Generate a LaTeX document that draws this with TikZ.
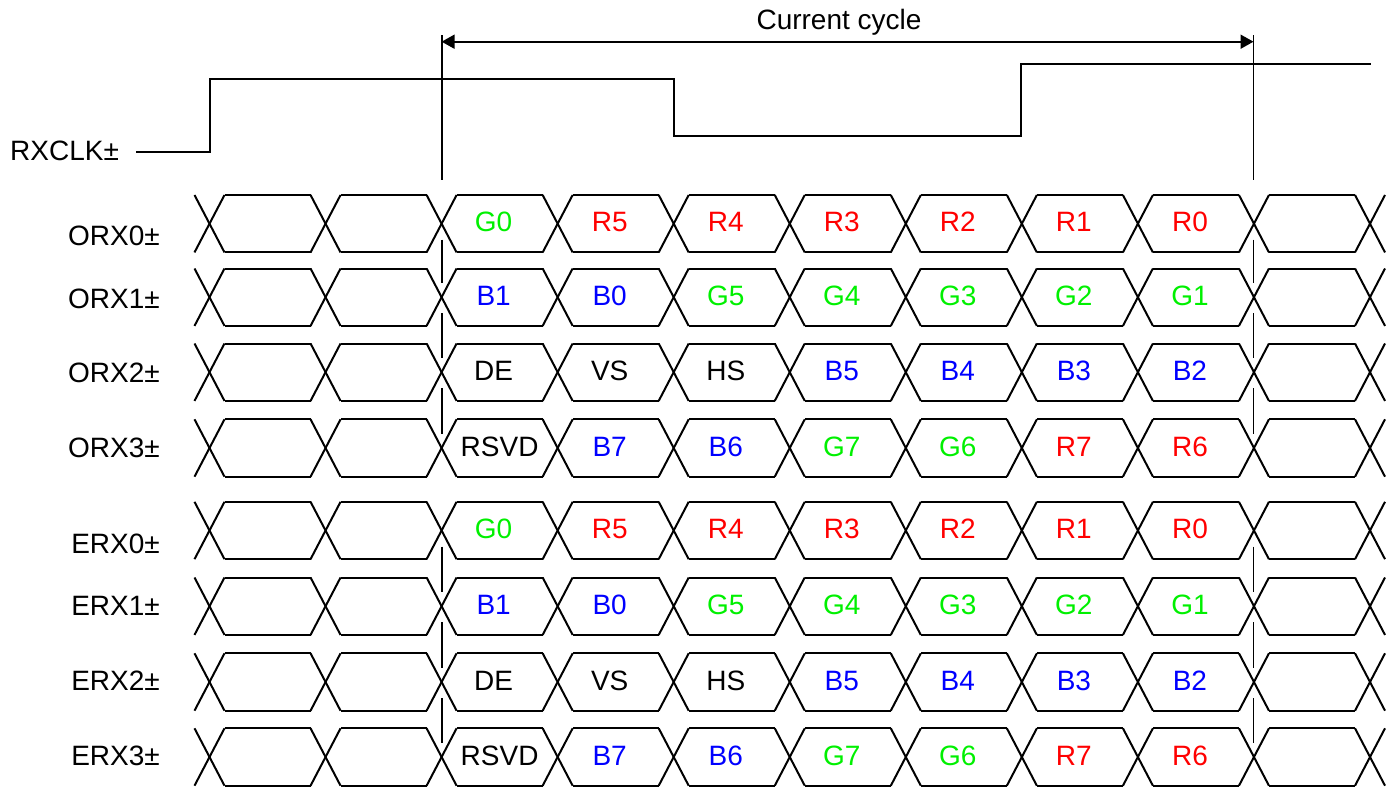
\documentclass[tikz,border=0pt]{standalone}
\usepackage{fontspec}
\setmainfont{Liberation Sans}
\usetikzlibrary{arrows.meta}
\definecolor{sgreen}{RGB}{0,240,0}
\definecolor{sred}{RGB}{255,0,0}
\definecolor{sblue}{RGB}{0,0,255}
\definecolor{sblack}{RGB}{0,0,0}
\begin{document}
\begin{tikzpicture}[x=1pt,y=-1pt,
  txt/.style={font=\fontsize{28}{30}\selectfont, inner sep=0pt},
  wave/.style={line width=2pt, line join=miter, line cap=butt},
  marker/.style={line width=1.8pt},
  span/.style={line width=1.8pt, {Triangle[length=13pt,width=14pt]}-{Triangle[length=13pt,width=14pt]}}]
\useasboundingbox (0,0) rectangle (1395,787);

% clock
\node[txt, anchor=base west] (clklbl) at (10,160) {RXCLK±};
\draw[wave] (136,152) -- (209.5,152) -- (209.5,79) -- (674,79) -- (674,136) -- (1021,136) -- (1021,64) -- (1371,64);

% cycle markers
\coordinate (mLt) at (441.6,35);
\coordinate (mLb) at (441.6,180);
\coordinate (mRt) at (1253.5,35);
\coordinate (mRb) at (1253.5,180);
\draw[marker] (mLt) -- (mLb);
\draw[marker] (mRt) -- (mRb);
\coordinate (aL) at (441.6,41.7);
\coordinate (aR) at (1253.5,41.7);
\draw[span] (aL) -- (aR);
\node[txt, anchor=base] (cyc) at (839,29) {Current cycle};

% lanes
\foreach \r/\ym/\lab/\lb in {1/223.7/ORX0/245, 2/297.2/ORX1/308, 3/372.2/ORX2/382, 4/448/ORX3/457,
                             5/530.5/ERX0/553, 6/606.2/ERX1/615, 7/682/ERX2/690, 8/757/ERX3/765} {
  \node[txt, anchor=base east] (lab\r) at (160,\lb) {\lab±};
  \pgfmathsetmacro\yt{\ym-28.7}
  \pgfmathsetmacro\yb{\ym+28.7}
  \foreach \k in {0,...,10} {
    \pgfmathsetmacro\xc{209.5+116.05*\k}
    \draw[wave] (\xc-15,\yt) -- (\xc+15,\yb);
    \draw[wave] (\xc-15,\yb) -- (\xc+15,\yt);
  }
  \foreach \k in {0,...,9} {
    \pgfmathsetmacro\xa{209.5+116.05*\k+15}
    \pgfmathsetmacro\xb{209.5+116.05*(\k+1)-15}
    \draw[wave] (\xa,\yt) -- (\xb,\yt);
    \draw[wave] (\xa,\yb) -- (\xb,\yb);
  }
}

% cell contents
\foreach \r/\ym in {1/223.7,5/530.5} {
  \foreach \t/\c [count=\i from 2] in {G0/sgreen,R5/sred,R4/sred,R3/sred,R2/sred,R1/sred,R0/sred} {
    \pgfmathsetmacro\xc{209.5+116.05*(\i+0.5)-6}
    \node[txt, anchor=base, text=\c] (c\r-\i) at (\xc,\ym+8) {\t};
  }
}
\foreach \r/\ym in {2/297.2,6/606.2} {
  \foreach \t/\c [count=\i from 2] in {B1/sblue,B0/sblue,G5/sgreen,G4/sgreen,G3/sgreen,G2/sgreen,G1/sgreen} {
    \pgfmathsetmacro\xc{209.5+116.05*(\i+0.5)-6}
    \node[txt, anchor=base, text=\c] (c\r-\i) at (\xc,\ym+8) {\t};
  }
}
\foreach \r/\ym in {3/372.2,7/682} {
  \foreach \t/\c [count=\i from 2] in {DE/sblack,VS/sblack,HS/sblack,B5/sblue,B4/sblue,B3/sblue,B2/sblue} {
    \pgfmathsetmacro\xc{209.5+116.05*(\i+0.5)-6}
    \node[txt, anchor=base, text=\c] (c\r-\i) at (\xc,\ym+8) {\t};
  }
}
\foreach \r/\ym in {4/448,8/757} {
  \foreach \t/\c/\dx [count=\i from 2] in {RSVD/sblack/0,B7/sblue/6,B6/sblue/6,G7/sgreen/6,G6/sgreen/6,R7/sred/6,R6/sred/6} {
    \pgfmathsetmacro\xc{209.5+116.05*(\i+0.5)-\dx}
    \node[txt, anchor=base, text=\c] (c\r-\i) at (\xc,\ym+8) {\t};
  }
}

% broken cycle boundary lines through the lanes
\foreach \xm in {441.6,1253.5} {
  \foreach \ya/\yb in {223.7/297.2, 297.2/372.2, 372.2/448, 530.5/606.2, 606.2/682, 682/757} {
    \draw[marker] (\xm,\ya+16) -- (\xm,\yb-14);
  }
}
\end{tikzpicture}
\end{document}
